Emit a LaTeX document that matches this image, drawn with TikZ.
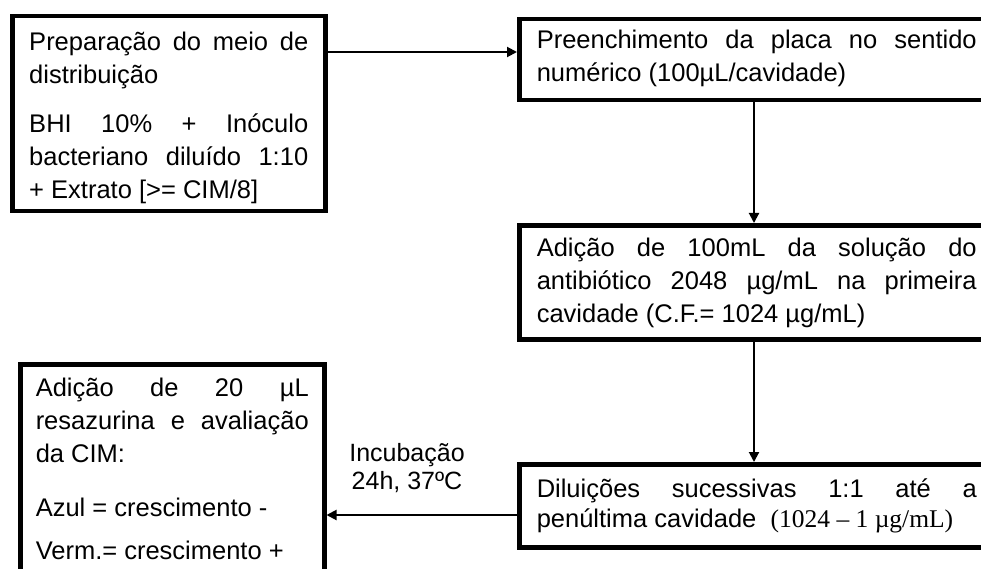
\documentclass[tikz,border=0pt]{standalone}
\usepackage{fontspec}
\setmainfont{Liberation Sans}
\newfontfamily\timesf{Liberation Serif}
\usetikzlibrary{arrows.meta}
% #1 width, #2 height, #3 side padding, #4 first baseline from top, #5 text
\newcommand\boxtxt[5]{%
  \parbox[c][#2][t]{#1}{\fontsize{25.5}{33}\selectfont
    \leftskip=#3\relax\rightskip=#3\relax\hyphenpenalty=10000\relax
    \rule{0pt}{#4}#5}}
\tikzset{
  box/.style={draw=black, line width=4.5pt, anchor=north west, inner sep=0pt},
  arr/.style={draw=black, line width=2pt, -{Triangle[length=10pt,width=10pt]}},
  lbl/.style={font=\fontsize{25}{28}\selectfont, align=center, inner sep=0pt}
}
\begin{document}
\begin{tikzpicture}[x=1pt,y=-1pt]
\clip (0,0) rectangle (981,569);
\fill[white] (0,0) rectangle (981,569);

\node[box] (b1) at (10,14) {\boxtxt{313pt}{195pt}{17pt}{34pt}{%
Preparação do meio de\linebreak distribuição\par\vspace{16pt}%
BHI 10\% + Inóculo\linebreak bacteriano diluído 1:10\linebreak + Extrato [>= CIM/8]}};

\node[box] (b2) at (517,17) {\boxtxt{475pt}{81pt}{17.5pt}{29pt}{%
Preenchimento da placa no sentido\linebreak numérico (100µL/cavidade)}};

\node[box] (b3) at (517,223) {\boxtxt{475pt}{114pt}{17.5pt}{31pt}{%
Adição de 100mL da solução do\linebreak antibiótico 2048 µg/mL na primeira\linebreak cavidade (C.F.= 1024 µg/mL)}};

\node[box] (b4) at (517,462) {\boxtxt{475pt}{83pt}{17.5pt}{33pt}{%
\baselineskip=30pt Diluições sucessivas 1:1 até a\linebreak penúltima cavidade\ \ {\timesf (1024 – 1 µg/mL)}}};

\node[box] (b5) at (18,362) {\boxtxt{304pt}{240pt}{15.5pt}{32pt}{%
Adição de 20 µL\linebreak resazurina e avaliação\linebreak da CIM:\par\vspace{21pt}%
Azul = crescimento -\par\vspace{10pt}%
Verm.= crescimento +}};

\node[lbl] (inc) at (407,468) {Incubação\\24h, 37ºC};

\coordinate (vx) at (754,0);
\draw[arr] ([yshift=-38pt]b1.north east) coordinate (p1) -- (p1 -| b2.west);
\draw[arr] (vx |- b2.south) -- (vx |- b3.north);
\draw[arr] (vx |- b3.south) -- (vx |- b4.north);
\draw[arr] ([yshift=-53pt]b4.north west) coordinate (p4) -- (p4 -| b5.east);
\end{tikzpicture}
\end{document}
